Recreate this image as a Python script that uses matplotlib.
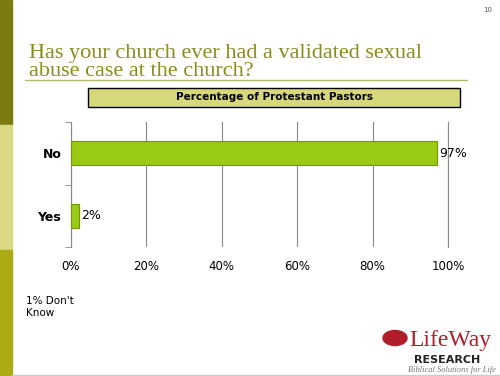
import matplotlib
matplotlib.use("Agg")
import matplotlib.pyplot as plt
from matplotlib.patches import Rectangle, Ellipse
from matplotlib.ticker import PercentFormatter

# data
categories = ["No", "Yes"]
values = [97, 2]
value_labels = ["97%", "2%"]
xticks = [0, 20, 40, 60, 80, 100]

title = "Has your church ever had a validated sexual\nabuse case at the church?"
subtitle = "Percentage of Protestant Pastors"
note = "1% Don't\nKnow"

fig = plt.figure(figsize=(5.0, 3.76), dpi=100)
W, H = 500, 376

def fx(x):
    return x / W

def fy(y):
    return 1 - y / H

# left colour strip
fig.patches.append(Rectangle((0, fy(125)), fx(12), 125 / H, transform=fig.transFigure,
                             color="#7b7b12", zorder=0))
fig.patches.append(Rectangle((0, fy(250)), fx(12), 125 / H, transform=fig.transFigure,
                             color="#d9d986", zorder=0))
fig.patches.append(Rectangle((0, 0), fx(12), 126 / H, transform=fig.transFigure,
                             color="#abab14", zorder=0))

# page number
fig.text(fx(492), fy(10), "10", fontsize=5, color="#555555", ha="right", va="center")

# title + rule
fig.text(fx(29), fy(81), title, family="Liberation Serif", fontsize=16,
         color="#8c8c1e", ha="left", va="bottom", linespacing=0.95)
fig.add_artist(plt.Line2D([fx(25), fx(467)], [fy(79.5), fy(79.5)], transform=fig.transFigure,
                          color="#b8b86a", lw=1))

# subtitle box
fig.patches.append(Rectangle((fx(88), fy(107)), fx(372), 19 / H, transform=fig.transFigure,
                             facecolor="#d7d77c", edgecolor="black", lw=1, zorder=1))
fig.text(fx(274), fy(97.5), subtitle, fontsize=7.5, fontweight="bold",
         ha="center", va="center", zorder=2)

# chart
ax = fig.add_axes([fx(71), fy(247), fx(448 - 71), (247 - 122) / H])
ypos = list(range(len(categories)))
bars = ax.barh(ypos, values, height=0.38, color="#9acb14", edgecolor="#6e9a00", lw=0.8, zorder=3)
ax.set_ylim(1.5, -0.5)
ax.set_xlim(0, 100)
ax.set_xticks(xticks)
ax.xaxis.set_major_formatter(PercentFormatter(decimals=0))
ax.set_yticks(ypos)
ax.set_yticklabels(categories, fontsize=9, fontweight="bold")
ax.set_yticks([-0.5, 0.5, 1.5], minor=True)
ax.tick_params(axis="y", which="major", length=0, pad=7)
ax.tick_params(axis="y", which="minor", length=4, color="#888888", direction="out")
ax.tick_params(axis="x", length=0, labelsize=8.5, pad=9)
ax.grid(axis="x", color="#8a8a8a", lw=0.8, zorder=0)
for s in ["top", "bottom"]:
    ax.spines[s].set_visible(False)
ax.spines["left"].set_color("#888888")
ax.spines["right"].set_color("#8a8a8a")
ax.spines["right"].set_linewidth(0.8)
for b, lab in zip(bars, value_labels):
    ax.text(b.get_width() + 0.6, b.get_y() + b.get_height() / 2, lab,
            fontsize=9, va="center", ha="left")

# footnote
fig.text(fx(26), fy(296), note, fontsize=7.5, ha="left", va="top", linespacing=1.25)

# logo
fig.patches.append(Ellipse((fx(395), fy(338)), fx(24), 15 / H, transform=fig.transFigure,
                           color="#b01e2a", zorder=2))
fig.text(fx(409), fy(346), "LifeWay", family="Liberation Serif", fontsize=17,
         color="#b01e2a", ha="left", va="baseline")
fig.text(fx(447), fy(363), "RESEARCH", fontsize=8, fontweight="bold", color="#222222",
         ha="center", va="baseline")
fig.text(fx(452), fy(372), "Biblical Solutions for Life", family="Liberation Serif",
         fontsize=6, style="italic", color="#777777", ha="center", va="baseline")

fig.add_artist(plt.Line2D([fx(12), 1], [fy(374.5), fy(374.5)], transform=fig.transFigure,
                          color="#cccccc", lw=1))

fig.savefig("out.png", dpi=100)
